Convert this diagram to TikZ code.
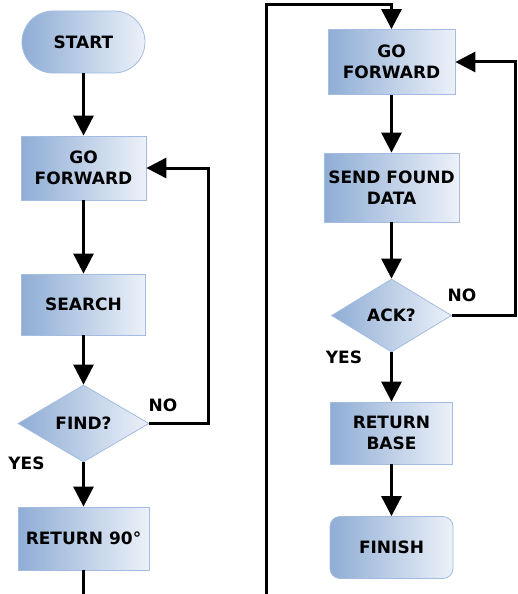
\documentclass[tikz,border=0pt]{standalone}
\usepackage{fontspec}
\setmainfont{DejaVu Sans}
\usetikzlibrary{shapes.geometric,arrows.meta}
\definecolor{gl}{HTML}{8FADD5}
\definecolor{gr}{HTML}{ECF1F9}
\definecolor{bd}{HTML}{A3BCDF}
\begin{document}
\begin{tikzpicture}[x=1pt,y=-1pt,
  box/.style={draw=bd,line width=0.8pt,left color=gl,right color=gr,inner sep=0pt,align=center,
    font=\fontsize{17}{21.5}\selectfont\bfseries,text=black},
  proc/.style={box,rectangle},
  decide/.style={box,diamond},
  flow/.style={line width=3pt,-{Triangle[length=20pt,width=20pt]}},
  plain/.style={line width=3pt},
  lbl/.style={font=\fontsize{17}{19}\selectfont\bfseries,inner sep=0pt}]
\useasboundingbox (0,0) rectangle (518,594);
% left column
\node[proc,rounded corners=31pt,minimum width=123pt,minimum height=62pt] (start) at (83.5,42) {START};
\node[proc,minimum width=125pt,minimum height=64pt] (gf1) at (83.5,168) {GO\\FORWARD};
\node[proc,minimum width=124pt,minimum height=61pt] (search) at (83.5,304.5) {SEARCH};
\node[decide,minimum width=131pt,minimum height=77pt] (find) at (83.5,423.5) {FIND?};
\node[proc,minimum width=131pt,minimum height=63pt] (ret90) at (83.5,538.5) {RETURN 90°};
\coordinate (b1) at (83.5,594);
\coordinate (fb1) at (208,0);
\node[lbl] (no1) at (163,405) {NO};
\node[lbl] (yes1) at (26.5,463) {YES};
% right column
\node[proc,minimum width=127pt,minimum height=65pt] (gf2) at (391.5,62) {GO\\FORWARD};
\node[proc,minimum width=135pt,minimum height=69pt] (send) at (391.5,187.5) {SEND FOUND\\DATA};
\node[decide,minimum width=120pt,minimum height=73pt] (ack) at (391.5,315.5) {ACK?};
\node[proc,minimum width=122pt,minimum height=62pt] (retb) at (391.5,433) {RETURN\\BASE};
\node[proc,rounded corners=10pt,minimum width=123pt,minimum height=62pt] (finish) at (391.5,547.5) {FINISH};
\coordinate (b2) at (266,594);
\coordinate (t2) at (391.5,5);
\coordinate (fb2) at (515,0);
\node[lbl] (no2) at (462,295) {NO};
\node[lbl] (yes2) at (344,357) {YES};
% connectors
\draw[flow] (start) -- (gf1);
\draw[flow] (gf1) -- (search);
\draw[flow] (search) -- (find);
\draw[flow] (find) -- (ret90);
\draw[flow] (find.east) -- (find.east -| fb1) |- (gf1.east);
\draw[plain] (ret90.south) -- (b1);
\draw[flow] (b2) |- (t2) -- (gf2.north);
\draw[flow] (gf2) -- (send);
\draw[flow] (send) -- (ack);
\draw[flow] (ack) -- (retb);
\draw[flow] (retb) -- (finish);
\draw[flow] (ack.east) -- (ack.east -| fb2) |- (gf2.east);
\end{tikzpicture}
\end{document}
